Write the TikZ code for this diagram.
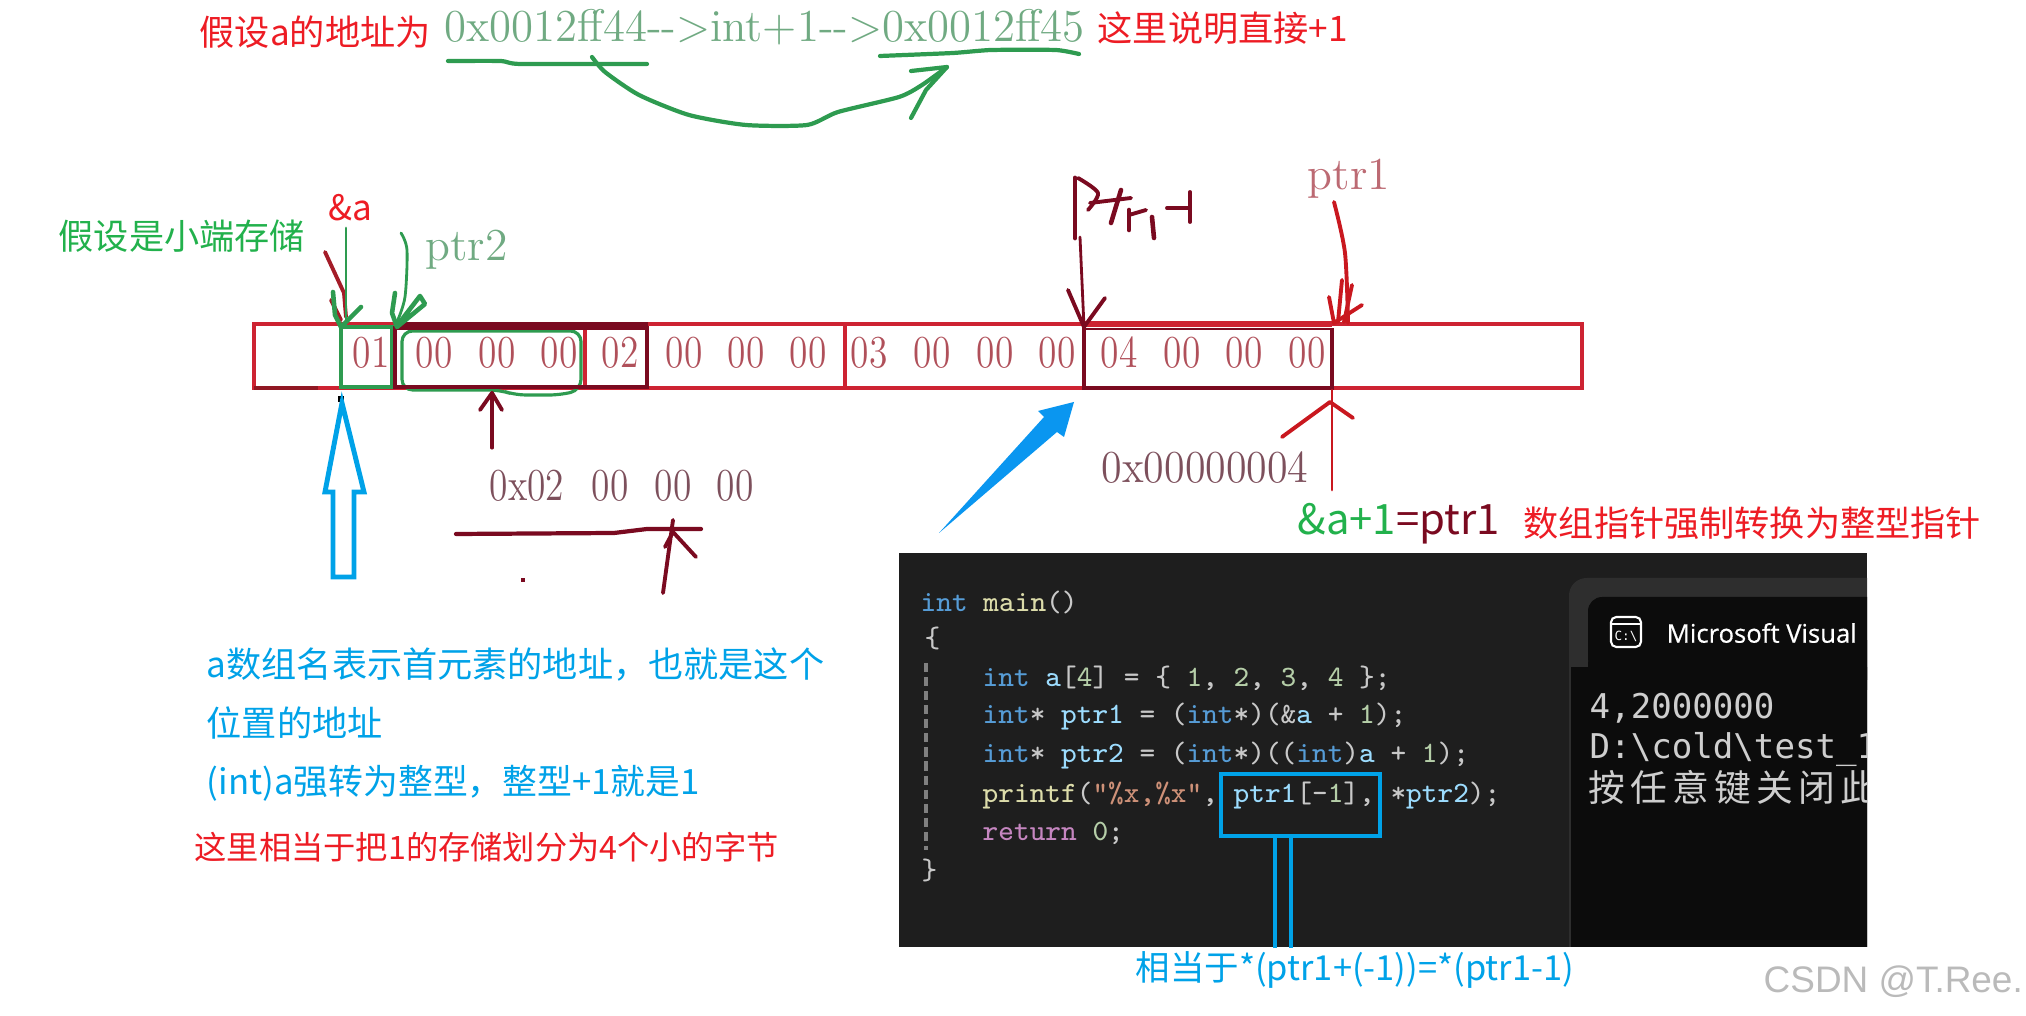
\documentclass[tikz,border=0pt]{standalone}
\usepackage{fontspec}
\newfontfamily\cjk{Noto Sans CJK SC}
\newfontfamily\termcjk[LetterSpace=14]{Noto Sans CJK SC}
\newfontfamily\consfont{DejaVu Sans Mono}
\newfontfamily\uifont[FakeBold=0.5]{Open Sans}
\newfontfamily\markfont{Liberation Sans}
\definecolor{noteRed}   {RGB}{237,  28,  36}
\definecolor{noteGreen} {RGB}{ 34, 177,  76}
\definecolor{noteBlue}  {RGB}{  0, 162, 232}
\definecolor{arrowBlue} {RGB}{ 10, 150, 240}
\definecolor{stripRed}  {RGB}{205,  35,  50}
\definecolor{inkMaroon} {RGB}{122,  10,  32}
\definecolor{penGreen}  {RGB}{ 46, 155,  80}
\definecolor{byteRed}   {RGB}{176,  80,  90}
\definecolor{byteDark}  {RGB}{125,  80,  92}
\definecolor{addrGreen} {RGB}{112, 170, 130}
\definecolor{codeBg}    {RGB}{ 30,  30,  30}
\definecolor{termTab}   {RGB}{ 46,  46,  46}
\definecolor{termBg}    {RGB}{ 12,  12,  12}
\definecolor{codeKw}    {RGB}{ 86, 156, 214}
\definecolor{codeFn}    {RGB}{220, 220, 170}
\definecolor{codeVar}   {RGB}{156, 220, 254}
\definecolor{codeStr}   {RGB}{206, 145, 120}
\definecolor{codeNum}   {RGB}{181, 206, 168}
\definecolor{codeRet}   {RGB}{197, 134, 192}
\definecolor{codeTxt}   {RGB}{200, 200, 200}
\newcommand{\cKw}[1]{\textcolor{codeKw}{#1}}
\newcommand{\cFn}[1]{\textcolor{codeFn}{#1}}
\newcommand{\cVar}[1]{\textcolor{codeVar}{#1}}
\newcommand{\cStr}[1]{\textcolor{codeStr}{#1}}
\newcommand{\cNum}[1]{\textcolor{codeNum}{#1}}
\usepackage{tikz}
\usetikzlibrary{positioning}

\begin{document}
\begin{tikzpicture}[
  x=0.01cm, y=-0.01cm,
  note/.style={font=\fontsize{10}{12}\cjk\selectfont, anchor=west, inner sep=0pt},
  bytetext/.style={text=byteRed, font=\fontsize{13}{13}\selectfont, xscale=.82, inner sep=0pt},
  codeline/.style={text=codeTxt, font=\fontsize{8.4}{10}\ttfamily\selectfont, anchor=west, inner sep=0pt},
  termline/.style={text=codeTxt!90!white, font=\fontsize{9.7}{12}\consfont\selectfont, anchor=west, inner sep=0pt},
  hand/.style={line cap=round, line join=round, line width=1.1pt},
]
  % Scale: 1cm = 100px, y inverted so numbers read as reference pixels
  \useasboundingbox (0,0) rectangle (2026,1016);

  % Top line: address plus one
  \node[note, text=noteRed] (addrNote) at (199,32) {假设a的地址为};
  \node[anchor=west, inner sep=0pt, text=addrGreen, font=\fontsize{13}{13}\selectfont, xscale=.98]
    (addrLine) at (444,27) {0x0012ff44-{}->int+1-{}->0x0012ff45};
  \node[note, text=noteRed] (plusNote) at (1097,28) {这里说明直接+1};
  \draw[hand, penGreen, line width=1.2pt] plot[smooth, tension=.3] coordinates {(448,61) (501,61) (520,64) (647,64)};
  \draw[hand, penGreen, line width=1.2pt] plot[smooth, tension=.3] coordinates {(880,56) (953,53) (991,50) (1056,50) (1079,54)};
  \draw[hand, penGreen, line width=1.2pt] plot[smooth, tension=.4] coordinates
    {(592,57) (605,72) (639,95) (689,115) (746,125) (807,125) (838,112) (899,97) (922,85) (947,67)};
  \draw[hand, penGreen, line width=1.2pt] (911,71) -- (947,67) -- (926,90) -- (911,118);

  % Memory strip
  \draw[stripRed, line width=1.4pt] (254,324) rectangle (1582,388);
  \draw[stripRed!70!black, line width=1.2pt] (254,388) -- (318,388);
  \draw[stripRed, line width=1pt] (845,324) -- (845,388);
  \draw[stripRed, line width=1.4pt] (585,330) -- (585,388);
  \foreach \xc/\val [count=\n] in {371/01,434/00,497/00,559/00,620/02,684/00,746/00,808/00,
      869/03,932/00,995/00,1057/00,1119/04,1182/00,1244/00,1307/00} {
    \node[bytetext] (byte\n) at (\xc,353) {\val};
  }

  % Boxes over the strip
  \draw[penGreen, line width=.9pt] (341,327) rectangle (392,387);
  \draw[penGreen, line width=.9pt, rounded corners=3pt] (402,331) -- (581,331) -- (581,390)
    -- (560,395) -- (515,395) -- (500,390) -- (402,390) -- cycle;
  \draw[inkMaroon, line width=1.4pt] (395,326) -- (395,387) -- (647,387) -- (647,326);
  \draw[inkMaroon, line width=2.3pt] (394,326) -- (648,326);
  \draw[inkMaroon, line width=1pt] (1084,328) -- (1084,388) -- (1332,388) -- (1332,328);
  \draw[inkMaroon, line width=.8pt] (1084,329) -- (1332,329);
  \draw[stripRed, line width=1.6pt] (1084,324) -- (1332,324);

  % Labels and pens above the strip
  \node[note, text=noteGreen] (endianNote) at (58,236) {假设是小端存储};
  \node[note, text=noteRed] (addrOfA) at (328,208) {\&a};
  \node[anchor=west, inner sep=0pt, text=addrGreen, font=\fontsize{13}{13}\selectfont] (ptrTwo) at (425,250) {ptr2};
  \node[anchor=west, inner sep=0pt, text=byteRed!85, font=\fontsize{13}{13}\selectfont] (ptrOne) at (1307,179) {ptr1};

  \draw[hand, stripRed!80!black] (325,252) -- (344,293) -- (346,317);
  \draw[hand, stripRed!80!black] (331,300) -- (341,320);
  \draw[hand, penGreen, line width=.8pt] (346,228) -- (346,327);
  \draw[hand, penGreen, line width=1.3pt] (333,292) -- (335,315) -- (341,327) -- (361,307);
  \draw[hand, penGreen, line width=.8pt] plot[smooth] coordinates {(401,233) (407,250) (405,297) (397,322)};
  \draw[hand, penGreen, line width=1.3pt] (395,293) -- (392,313) -- (397,327) -- (425,304) -- (420,296) -- (400,322);

  \draw[hand, inkMaroon, line width=1.4pt] (1075,178) -- (1075,238);
  \draw[hand, inkMaroon, line width=.8pt] (1080,237) -- (1084,327);
  \draw[hand, inkMaroon] (1068,290) -- (1084,327) -- (1105,298);
  \draw[hand, inkMaroon] plot[smooth] coordinates {(1078,178) (1098,193) (1088,210)};
  \draw[hand, inkMaroon, line width=1.3pt] (1121,190) -- (1111,223);
  \draw[hand, inkMaroon] (1090,203) -- (1131,198);
  \draw[hand, inkMaroon, line width=1.3pt] (1129,210) -- (1129,230);
  \draw[hand, inkMaroon] (1129,215) -- (1146,210);
  \draw[hand, inkMaroon, line width=1.3pt] (1152,217) -- (1154,238);
  \draw[hand, inkMaroon] (1167,208) -- (1190,208);
  \draw[hand, inkMaroon] (1190,192) -- (1190,222);

  \draw[hand, noteRed!85!black] plot[smooth] coordinates {(1334,202) (1345,253) (1348,323)};
  \draw[hand, noteRed!85!black] (1329,297) -- (1334,323) -- (1362,305);
  \draw[hand, noteRed!85!black] (1342,280) -- (1338,322);
  \draw[hand, noteRed!85!black] (1352,285) -- (1344,322);

  % Pens below the strip
  \filldraw[black] (339,397) rectangle (343,401);
  \fill[inkMaroon] (521,578) rectangle (525,582);
  \draw[hand, inkMaroon, line width=.9pt] (492,448) -- (492,393);
  \draw[hand, inkMaroon] (480,410) -- (492,393) -- (502,410);
  \foreach \xc/\val [count=\n] in {527/0x02,610/00,673/00,735/00} {
    \node[bytetext, text=byteDark] (word\n) at (\xc,486) {\val};
  }
  \draw[hand, inkMaroon, line width=1.2pt] (456,534) -- (614,533) -- (647,529) -- (701,529);
  \draw[hand, inkMaroon] (663,593) -- (673,520);
  \draw[hand, inkMaroon] (665,547) -- (673,532) -- (696,557);
  \node[bytetext, text=byteDark, xscale=1.12] (wordEnd) at (1205,468) {0x00000004};
  \draw[hand, noteRed!85!black, line width=.8pt] (1332,490) -- (1332,390);
  \draw[hand, noteRed!85!black] (1282,437) -- (1330,402) -- (1353,418);

  % Blue arrows
  \draw[noteBlue, line width=1.4pt, line join=miter] (342,403) -- (364,492) -- (354,492) -- (354,577)
    -- (333,577) -- (333,492) -- (325,492) -- cycle;
  \fill[arrowBlue] (1074,402) -- (1064,437) -- (1057,432) -- (939,533) -- (1044,417) -- (1038,411) -- cycle;

  % Notes left and right
  \node[note, text=noteBlue] (nameNote) at (206,665) {a数组名表示首元素的地址，也就是这个};
  \node[note, text=noteBlue] (placeNote) at (206,723) {位置的地址};
  \node[note, text=noteBlue, font=\fontsize{9.9}{12}\cjk\selectfont] (castNote) at (206,783) {(int)a强转为整型，整型+1就是1};
  \node[note, text=noteRed, font=\fontsize{9.17}{11}\cjk\selectfont] (byteNote) at (194,847) {这里相当于把1的存储划分为4个小的字节};
  \node[note, text=noteGreen, font=\fontsize{11.9}{13}\cjk\selectfont] (sumNote) at (1297,524)
    {\&a+1\textcolor{inkMaroon}{=ptr1}};
  \node[note, text=noteRed] (castPtrNote) at (1523,523) {数组指针强制转换为整型指针};

  % Code screenshot
  \fill[codeBg] (899,553) rectangle (1867,947);
  \node[codeline] (code1) at (920,602) {\cKw{int} \cFn{main}()};
  \node[codeline] (code2) at (924,638) {\{};
  \node[codeline] (code3) at (982,678) {\cKw{int} \cVar{a}[\cNum{4}] = \{ \cNum{1}, \cNum{2}, \cNum{3}, \cNum{4} \};};
  \node[codeline] (code4) at (982,717) {\cKw{int}* \cVar{ptr1} = (\cKw{int}*)(\&\cVar{a} + \cNum{1});};
  \node[codeline] (code5) at (982,756) {\cKw{int}* \cVar{ptr2} = (\cKw{int}*)((\cKw{int})\cVar{a} + \cNum{1});};
  \node[codeline] (code6) at (982,796) {\cFn{printf}(\cStr{"\%x,\%x"}, \cVar{ptr1}[-\cNum{1}], *\cVar{ptr2});};
  \node[codeline] (code7) at (982,833) {\textcolor{codeRet}{return} \cNum{0};};
  \node[codeline] (code8) at (921,870) {\}};
  \draw[gray, line width=1pt, dash pattern=on 2.6pt off 1.4pt] (926,663) -- (926,850);

  % Terminal window, cut off at the right edge of the screenshot
  \begin{scope}
    \clip (1500,553) rectangle (1867,947);
    \fill[termTab, rounded corners=5pt] (1569,578) rectangle (1900,980);
    \fill[termBg, rounded corners=4pt] (1588,597) rectangle (1900,690);
    \fill[termBg] (1571,667) rectangle (1900,980);
    \fill[termBg] (1588,640) rectangle (1900,680);
    \fill[termTab, rounded corners=2pt] (1571,655) rectangle (1588,667);
    \draw[white, line width=.6pt, rounded corners=1.5pt] (1611,617) rectangle (1641,647);
    \draw[white, line width=.6pt] (1611,624) -- (1641,624);
    \node[inner sep=0pt, text=white, font=\fontsize{3.6}{4}\consfont\selectfont] (termIcon) at (1626,636) {C:\textbackslash};
    \node[anchor=west, inner sep=0pt, text=white, font=\fontsize{7.3}{9}\uifont\selectfont] (termTitle) at (1666,633) {Microsoft Visual};
    \node[termline] (term1) at (1589,708) {4,2000000};
    \node[termline] (term2) at (1589,749) {D:\textbackslash cold\textbackslash test\_1};
    \node[termline, font=\fontsize{10.45}{13}\termcjk\selectfont] (term3) at (1588,787) {按任意键关闭此};
  \end{scope}

  % Boxed expression and its note
  \draw[noteBlue, line width=1.3pt] (1221,774) rectangle (1380,836);
  \draw[noteBlue, line width=1.3pt] (1275,948) -- (1275,836) -- (1291,836) -- (1291,948);
  \node[note, text=noteBlue, font=\fontsize{9.8}{12}\cjk\selectfont] (equalNote) at (1135,970) {相当于*(ptr1+(-1))=*(ptr1-1)};

  % Watermark
  \node[anchor=west, inner sep=0pt, text=black!27, font=\fontsize{10.5}{12}\markfont\selectfont] (csdnMark) at (1763,982) {CSDN @T.Ree.};
\end{tikzpicture}
\end{document}
